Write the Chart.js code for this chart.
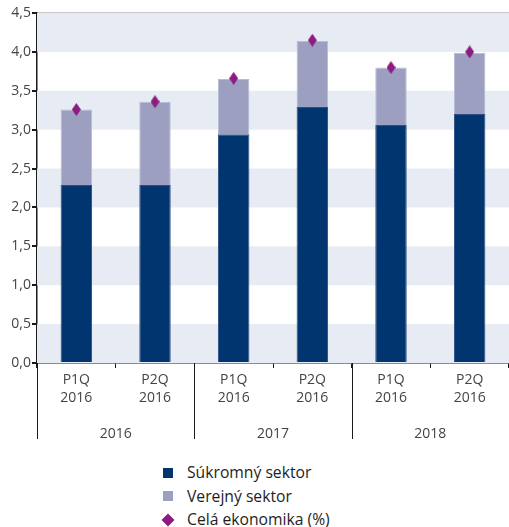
<!DOCTYPE html>
<html>
<head>
<meta charset="utf-8">
<script src="https://cdn.jsdelivr.net/npm/chart.js@4.4.1/dist/chart.umd.min.js"></script>
<style>
    html, body { margin: 0; padding: 0; background: #fff; }
    #wrap { position: relative; width: 509px; height: 527px; }
    #chart { position: absolute; left: 0; top: 0; }
    #legend {
        position: absolute; left: 160px; top: 461px;
        font-family: "Open Sans", sans-serif; font-size: 15.7px; color: #1e1e1e;
    }
    .item { height: 23.5px; line-height: 23.5px; display: flex; align-items: center; }
    .item svg { width: 20px; height: 16px; margin-right: 7px; }
</style>
</head>
<body>
<div id="wrap">
    <canvas id="chart" width="509" height="441"></canvas>
    <div id="legend"></div>
</div>
<script>
// data
const categories = [['P1Q', '2016'], ['P2Q', '2016'], ['P1Q', '2016'], ['P2Q', '2016'], ['P1Q', '2016'], ['P2Q', '2016']];
const groups = ['2016', '2017', '2018'];
const privateSector = [2.29, 2.29, 2.94, 3.29, 3.06, 3.20];
const publicSector = [0.97, 1.07, 0.71, 0.85, 0.74, 0.79];
const economy = [3.26, 3.36, 3.66, 4.15, 3.80, 4.00];
const seriesNames = ['Súkromný sektor', 'Verejný sektor', 'Celá ekonomika (%)'];
const yMin = 0, yMax = 4.5, yStep = 0.5;

const COL_PRIVATE = '#00356f';
const COL_PUBLIC = '#9c9fc0';
const COL_ECO = '#8c1c80';
const FONT = '"Open Sans", sans-serif';

// diamond marker (taller than wide)
function diamond(w, h, color) {
    const c = document.createElement('canvas');
    c.width = w; c.height = h;
    const g = c.getContext('2d');
    g.fillStyle = color;
    g.beginPath();
    g.moveTo(w / 2, 0);
    g.lineTo(w, h / 2);
    g.lineTo(w / 2, h);
    g.lineTo(0, h / 2);
    g.closePath();
    g.fill();
    return c;
}

// alternating bands behind the bars
const bandsPlugin = {
    id: 'bands',
    beforeDatasetsDraw(chart) {
        const { ctx, chartArea, scales } = chart;
        ctx.save();
        ctx.fillStyle = '#e7ebf3';
        for (let v = yMin; v < yMax; v += 2 * yStep) {
            const y1 = scales.y.getPixelForValue(v);
            const y2 = scales.y.getPixelForValue(v + yStep);
            ctx.fillRect(chartArea.left, y2, chartArea.right - chartArea.left, y1 - y2);
        }
        ctx.restore();
    }
};

// long separators between the year groups
const groupLines = {
    id: 'groupLines',
    afterDraw(chart) {
        const { ctx, chartArea, scales } = chart;
        const per = categories.length / groups.length;
        ctx.save();
        ctx.strokeStyle = '#1a1a1a';
        ctx.lineWidth = 1;
        for (let g = 0; g < groups.length; g++) {
            const x = Math.round(scales.x.getPixelForValue(g * per - 0.5)) + 0.5;
            ctx.beginPath();
            ctx.moveTo(x, chartArea.bottom);
            ctx.lineTo(x, scales.x2.bottom - 2);
            ctx.stroke();
        }
        ctx.restore();
    }
};

const noSidePad = (s) => { s.paddingLeft = 0; s.paddingRight = 0; };

const chart = new Chart(document.getElementById('chart'), {
    data: {
        labels: categories,
        datasets: [
            {
                type: 'bar', label: seriesNames[0], data: privateSector, stack: 'a',
                backgroundColor: COL_PRIVATE, borderColor: '#2d4f84', borderWidth: 1,
                barPercentage: 0.4, categoryPercentage: 1, order: 2
            },
            {
                type: 'bar', label: seriesNames[1], data: publicSector, stack: 'a',
                backgroundColor: COL_PUBLIC, borderColor: '#b9bcd5', borderWidth: 1,
                barPercentage: 0.4, categoryPercentage: 1, order: 2
            },
            {
                type: 'line', label: seriesNames[2], data: economy, stack: 'b',
                showLine: false, pointStyle: diamond(9, 13, COL_ECO),
                pointRadius: 6, pointHoverRadius: 6, order: 1
            }
        ]
    },
    options: {
        responsive: false,
        animation: false,
        layout: { autoPadding: false, padding: { top: 13, right: 0, left: 0, bottom: 0 } },
        plugins: {
            legend: { display: false },
            tooltip: { enabled: false }
        },
        scales: {
            x: {
                stacked: true,
                offset: true,
                grid: { offset: true, drawOnChartArea: false, tickLength: 5, tickColor: '#1a1a1a' },
                border: { color: '#1a1a1a', width: 1.5 },
                ticks: { color: '#444', font: { family: FONT, size: 14, lineHeight: 1.28 }, padding: 3, maxRotation: 0 },
                afterFit(s) { s.height = 48; noSidePad(s); }
            },
            x2: {
                type: 'category',
                labels: groups,
                position: 'bottom',
                offset: true,
                grid: { display: false },
                border: { display: false },
                ticks: { color: '#444', font: { family: FONT, size: 14 }, padding: 7 },
                afterFit(s) { s.height = 30; noSidePad(s); }
            },
            y: {
                stacked: true,
                min: yMin, max: yMax,
                grid: {
                    color: (c) => c.tick && c.tick.value === yMax ? '#c9c9c9' : 'rgba(0,0,0,0)',
                    lineWidth: 2,
                    tickColor: '#1a1a1a', tickLength: 5
                },
                border: { color: '#1a1a1a', width: 1.5 },
                ticks: {
                    stepSize: yStep, color: '#444', padding: 1,
                    font: { family: FONT, size: 14 },
                    callback: (v) => Number(v).toFixed(1).replace('.', ',')
                },
                afterFit(s) { s.width = 37; }
            }
        }
    },
    plugins: [bandsPlugin, groupLines]
});

// legend, one item per row
const legend = document.getElementById('legend');
const markers = [
    `<svg viewBox="0 0 20 16"><rect x="3" y="3" width="10" height="10" fill="${COL_PRIVATE}"/></svg>`,
    `<svg viewBox="0 0 20 16"><rect x="3" y="3" width="10" height="10" fill="${COL_PUBLIC}"/></svg>`,
    `<svg viewBox="0 0 20 16"><polygon points="8,1.5 14.5,8 8,14.5 1.5,8" fill="${COL_ECO}"/></svg>`
];
legend.innerHTML = seriesNames.map((name, i) =>
    `<div class="item">${markers[i]}<span>${name}</span></div>`).join('');
</script>
</body>
</html>
